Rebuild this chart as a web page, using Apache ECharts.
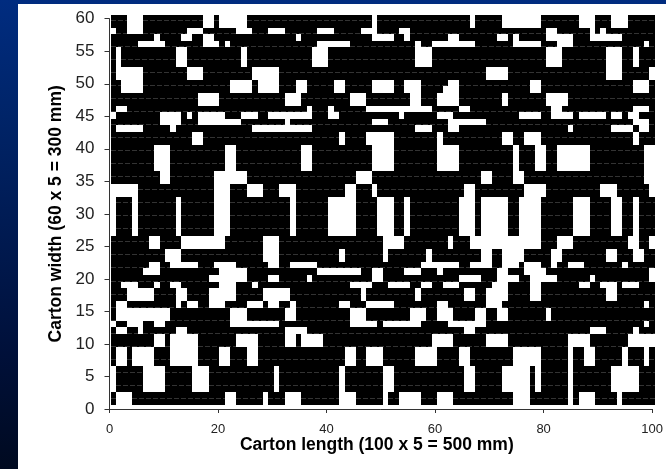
<!DOCTYPE html>
<html>
<head>
<meta charset="utf-8">
<title>Carton</title>
<script src="https://cdn.jsdelivr.net/npm/echarts@6/dist/echarts.min.js"></script>
<style>
  html, body { margin: 0; padding: 0; background: linear-gradient(180deg, #002c80 0%, #002468 25%, #00103a 75%, #000a20 100%); }
  #chart { width: 666px; height: 469px; }
</style>
</head>
<body>
<div id="chart"></div>
<script>
const xTicks = [0, 20, 40, 60, 80, 100];
const yTicks = [0, 5, 10, 15, 20, 25, 30, 35, 40, 45, 50, 55, 60];
const colCount = 100;
const rowCount = 60;

// first row of each band, counted from the top of the carton
const bandStarts = [0, 2, 3, 4, 5, 8, 10, 11, 12, 14, 15, 16, 17, 18, 20, 24, 26, 28, 34, 36, 38, 39, 40, 41, 42, 44, 45, 47, 48, 49, 51, 54, 58];
// white columns in each band, "from-to"
const whiteRuns = [
  '3-5 17-18 20-24 48 66 72-78 86-88 92-94',
  '0 3-5 14-16 23-25 29-31 38-40 46-48 53-54 80-81 88 90',
  '8 13-14 17-18 34 48-51 54 62-63 71-72 74 80-84 88-93',
  '5-9 17-19 21 38-43 56 59-66 74-78 82-84 98',
  '1 12-13 24 37-39 56-58 80-82 91-93 96',
  '1-5 14-16 26-30 69-72 91-93 99',
  '2-5 22-25 27-30 34-35 41-42 48-51 54-56 62-63 77-78 96-98',
  '2-5 22-25 27-30 34-35 41-42 48-51 54-56 61-63 77-78 96-98',
  '16-19 32-34 44-46 55-56 60-63 72 80-83',
  '1-2 36 40 47-58 64-65 81-82 96-98',
  '0 9-12 14 16-20 24-26 29-36 40-41 53 60-62 75-78 81-84 86-90 92-93 95-96',
  '9-12 16-23 32 48-50 62-68 96-98',
  '1-5 11 26-36 56-58 62-63 84 92-95 97-98',
  '15-16 42 47-51 60 72-73 76-78 96',
  '8-10 21-22 35-36 48-51 60-63 74 78-79 82-87 98-99',
  '9-10 19-24 45-47 68-69 74-75 98-99',
  '0-4 19-21 25-27 31-33 43-44 48 65-66 76-79 90-92 99',
  '0 4 12 19-21 33 40-44 49-51 54 64-66 68-72 75-78 85-87 92-93 96',
  '7-8 13-20 28-30 50-53 62 66-78 82-84 95-96 99',
  '10-12 28-30 42 50 58 68-69 72-75 81-82 91-92 96-97',
  '7-8 11-15 19-22 29-30 33-37 57-63 66-69 72-74 76-78 81 84-86 94',
  '6-8 20-24 38-45 48-49 54-56 60 71-72 76-79 99',
  '18-24 29-30 36 48-49 64-67 71-74 77-81 88 99',
  '2-4 8 11-12 20-22 26 44-47 51-54 57-58 61-63 70-72 77-78 86-87 90-92 94-96',
  '3-7 12-13 18-22 28-32 46 56 65-66 69-72 77-78 91-92',
  '1-2 12 14-15 18-20 25-27 29-30 33 42-43 47-51 60-61 69-71 98',
  '1-10 22-24 32-33 44-46 55-57 60-62 67-68 71-72 80',
  '0 3-5 8-9 22-30 44-48 50-56 62-68 98',
  '1-2 5 12-13 32-35 65-66 88-90 96',
  '8-9 11-15 23-26 32-33 35-38 59-62 69-72 84-87 95-99',
  '1-2 4-7 11-15 20-21 25-26 43-44 47-49 56-59 64-65 74-78 84 87-88 94 98',
  '0 6-9 15-17 30 42 50-51 65-66 72-76 78 84 92-96',
  '1-3 21-22 28 32-34 42-44 50 53-56 60-62 74-76 84 86-88 93'
];

// the cells sit slightly off the axis origin in the original
const xStart = 0.2, colWidth = 1.003, yStart = 0.6;

const blackCells = [];
bandStarts.forEach((start, i) => {
  const end = i + 1 < bandStarts.length ? bandStarts[i + 1] : rowCount;
  const white = new Array(colCount).fill(false);
  whiteRuns[i].split(' ').forEach(run => {
    const parts = run.split('-').map(Number);
    const last = parts.length > 1 ? parts[1] : parts[0];
    for (let c = parts[0]; c <= last; c++) white[c] = true;
  });
  for (let r = start; r < end; r++) {
    let c = 0;
    while (c < colCount) {
      if (white[c]) { c++; continue; }
      let stop = c;
      while (stop + 1 < colCount && !white[stop + 1]) stop++;
      const top = rowCount - r + yStart;
      blackCells.push([xStart + c * colWidth, xStart + (stop + 1) * colWidth, top - 1, top, r]);
      c = stop + 1;
    }
  }
});

const chart = echarts.init(document.getElementById('chart'), null, { renderer: 'canvas' });
const fontFamily = '"Liberation Sans", Arial, sans-serif';
chart.setOption({
  animation: false,
  backgroundColor: 'transparent',
  graphic: [{
    type: 'rect',
    z: -10,
    shape: { x: 18, y: 4, width: 648, height: 465 },
    style: { fill: '#ffffff' }
  }],
  grid: { left: 109.5, right: 13.3, top: 18.7, bottom: 60 },
  xAxis: {
    type: 'value',
    min: 0,
    max: 100,
    interval: 20,
    name: 'Carton length (100 x 5 = 500 mm)',
    nameLocation: 'middle',
    nameGap: 27,
    nameMoveOverlap: false,
    nameTextStyle: { fontFamily, fontSize: 17.5, fontWeight: 'bold', color: '#000', padding: [0, 8, 0, 0] },
    axisLine: { lineStyle: { color: '#333', width: 1 } },
    axisTick: { length: 4, lineStyle: { color: '#333' } },
    axisLabel: { fontFamily, fontSize: 13, color: '#222', margin: 14, formatter: v => xTicks.includes(v) ? v : '' },
    splitLine: { show: false }
  },
  yAxis: {
    type: 'value',
    min: 0,
    max: 60,
    interval: 5,
    name: 'Carton width (60 x 5 = 300 mm)',
    nameLocation: 'middle',
    nameGap: 44,
    nameMoveOverlap: false,
    nameTextStyle: { fontFamily, fontSize: 17.5, fontWeight: 'bold', color: '#000' },
    axisLine: { show: true, lineStyle: { color: '#333', width: 1 } },
    axisTick: { show: true, length: 5, lineStyle: { color: '#333' } },
    axisLabel: { fontFamily, fontSize: 17, color: '#222', margin: 15, formatter: v => yTicks.includes(v) ? v : '' },
    splitLine: { show: false }
  },
  series: [{
    type: 'custom',
    clip: false,
    data: blackCells,
    encode: { x: [0, 1], y: [2, 3] },
    renderItem: (params, api) => {
      const a = api.coord([api.value(0), api.value(3)]);
      const b = api.coord([api.value(1), api.value(2)]);
      const x0 = Math.round(a[0]), x1 = Math.round(b[0]);
      const y0 = Math.round(a[1]), y1 = Math.round(b[1]);
      const children = [{
        type: 'rect',
        shape: { x: x0, y: y0, width: x1 - x0, height: y1 - y0 },
        style: { fill: '#000' }
      }];
      // faint dashed seam the original shows along every other row
      if (api.value(4) % 2 === 0) {
        children.push({
          type: 'line',
          shape: { x1: x0, y1: y1 - 0.5, x2: x1, y2: y1 - 0.5 },
          style: { stroke: '#333', lineWidth: 1, lineDash: [5, 2] }
        });
      }
      return { type: 'group', children };
    }
  }]
});
</script>
</body>
</html>
